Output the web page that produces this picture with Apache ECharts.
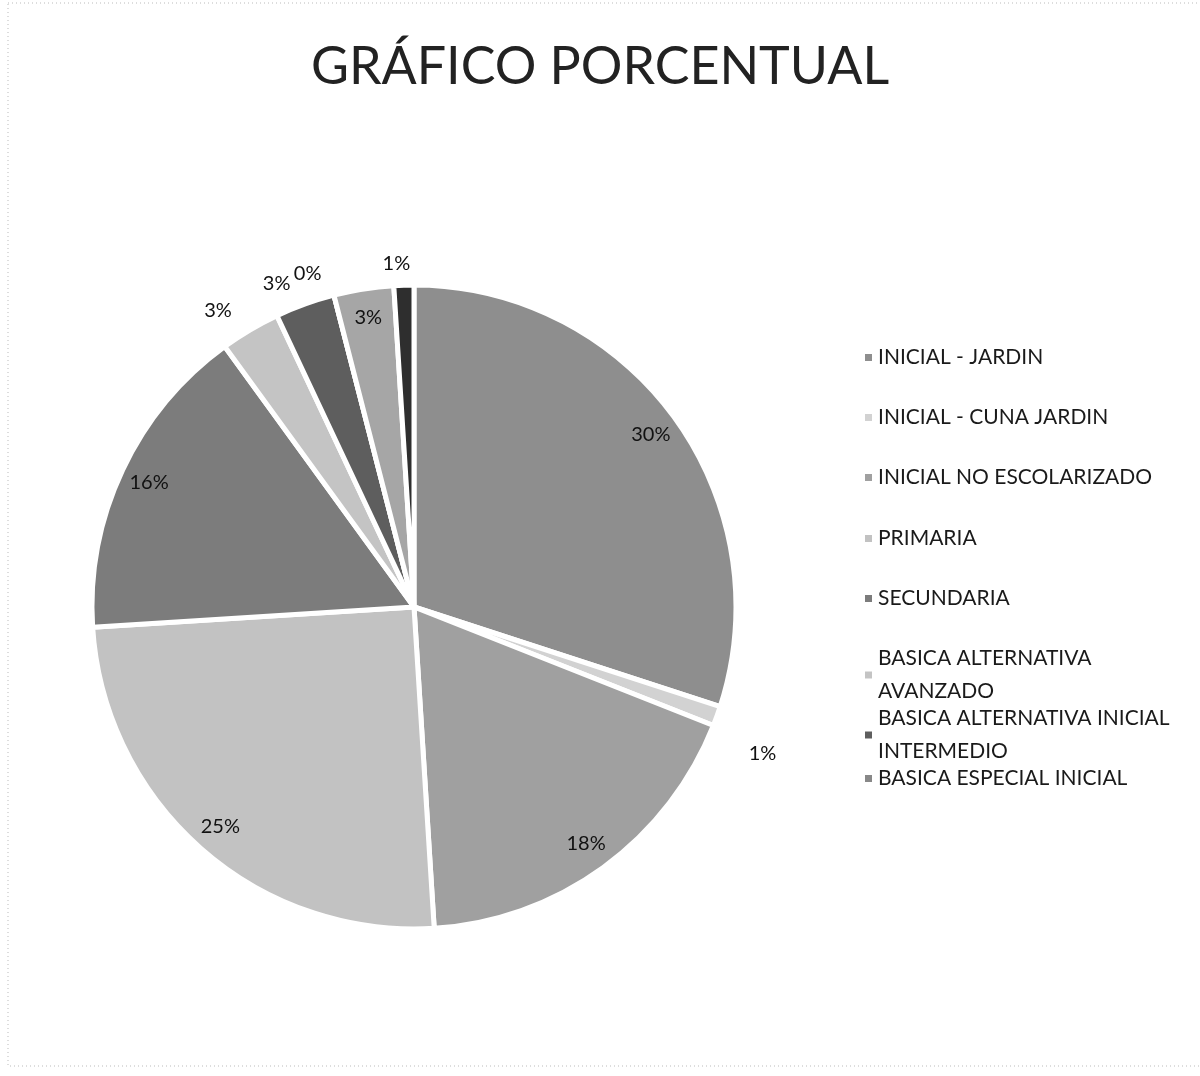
<!DOCTYPE html>
<html><head><meta charset="utf-8">
<script src="https://cdn.jsdelivr.net/npm/echarts@6/dist/echarts.min.js"></script>
<style>html,body{margin:0;padding:0;background:#fff}#c{width:1200px;height:1076px}</style>
</head><body><div id="c"></div>
<script>
const titleText = 'GRÁFICO PORCENTUAL';
const categories = [
  'INICIAL - JARDIN',
  'INICIAL - CUNA JARDIN',
  'INICIAL NO ESCOLARIZADO',
  'PRIMARIA',
  'SECUNDARIA',
  'BASICA ALTERNATIVA AVANZADO',
  'BASICA ALTERNATIVA INICIAL INTERMEDIO',
  'BASICA ESPECIAL INICIAL',
  'BASICA ESPECIAL PRIMARIA',
  'TECNICO PRODUCTIVA'
];
const values = [30, 1, 18, 25, 16, 3, 3, 0, 3, 1];
const legendShown = categories.slice(0, 8);
const legendText = {
  'BASICA ALTERNATIVA AVANZADO': 'BASICA ALTERNATIVA\nAVANZADO',
  'BASICA ALTERNATIVA INICIAL INTERMEDIO': 'BASICA ALTERNATIVA INICIAL\nINTERMEDIO'
};
const colors = ['#8e8e8e','#d2d2d2','#a0a0a0','#c2c2c2','#7c7c7c','#c4c4c4','#5e5e5e','#888888','#a6a6a6','#2e2e2e'];
const outsideLabel = [false, true, false, false, false, true, true, true, false, true];

const center = [414, 607];
const R = 322;
const font = 'Lato, "Open Sans", "Liberation Sans", sans-serif';

const chart = echarts.init(document.getElementById('c'));
const pct = p => Math.round(p.percent) + '%';

const legendTops = [336, 396, 456, 517, 577, 637, 697, 757];
const legends = legendShown.map((n, i) => ({
  data: [n],
  left: 858,
  top: legendTops[i],
  icon: 'rect',
  itemWidth: 9,
  itemHeight: 9,
  itemGap: 8,
  selectedMode: false,
  formatter: name => legendText[name] || name,
  textStyle: {fontFamily: font, fontSize: 21, color: '#1a1a1a', lineHeight: 33}
}));

chart.setOption({
  animation: false,
  color: colors,
  title: {
    text: titleText, left: 'center', top: 36,
    textStyle: {fontFamily: font, fontSize: 52, fontWeight: 'normal', color: '#222'}
  },
  legend: legends,
  graphic: [{
    type: 'rect', shape: {x: 8, y: 3, width: 1200, height: 1063},
    style: {fill: 'none', stroke: '#bbb', lineWidth: 1, lineDash: [1, 3]}, silent: true, z: -1
  }],
  series: [
    {
      type: 'pie', center: center, radius: [0, R], startAngle: 90, clockwise: true,
      avoidLabelOverlap: false, silent: true,
      itemStyle: {borderColor: '#fff', borderWidth: 5},
      label: {show: false}, labelLine: {show: false},
      data: categories.map((n, i) => ({name: n, value: values[i]}))
    },
    {
      type: 'pie', center: center, radius: [R * 0.8, R], startAngle: 90, clockwise: true,
      avoidLabelOverlap: false, silent: true, legendHoverLink: false,
      itemStyle: {color: 'rgba(0,0,0,0)', borderWidth: 0},
      labelLine: {show: false, length: 22, length2: 2},
      data: categories.map((n, i) => ({
        name: n, value: values[i],
        label: {
          show: true,
          position: outsideLabel[i] ? 'outside' : 'inside',
          formatter: pct,
          offset: i === 1 ? [4, 30] : (i === 9 ? [14, 0] : [0, 0]),
          fontFamily: font, fontSize: 20, color: '#111'
        }
      }))
    }
  ]
});
</script></body></html>
